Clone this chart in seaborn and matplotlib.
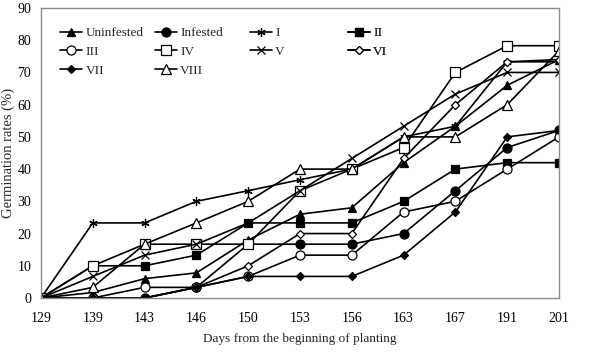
import numpy as np
import matplotlib
matplotlib.use("Agg")
import matplotlib.pyplot as plt
import seaborn as sns

# days (categorical x axis)
days = [129, 139, 143, 146, 150, 153, 156, 163, 167, 191, 201]

uninfested = [0, 1.7, 6, 7.8, 18, 26, 28, 42, 53.3, 66, 74]
infested = [0, 0, 0, 3.3, 16.7, 16.7, 16.7, 20, 33.3, 46.7, 52]
s_i = [0, 23.3, 23.3, 30, 33.3, 36.7, 40, 50, 53.3, 73.3, 73.3]
s_ii = [0, 10, 10, 13.3, 23.3, 23.3, 23.3, 30, 40, 42, 42]
s_iii = [0, 0, 3.3, 3.3, 6.7, 13.3, 13.3, 26.7, 30, 40, 50]
s_iv = [0, 10, 16.7, 16.7, 16.7, 33.3, 40, 46.7, 70, 78.3, 78.3]
s_v = [0, 6.7, 13.3, 16.7, 23.3, 33.3, 43.3, 53.3, 63.3, 70, 70]
s_vi = [0, 0, 0, 3.3, 10, 20, 20, 43.3, 60, 73.3, 74]
s_vii = [0, 0, 0, 3.3, 6.7, 6.7, 6.7, 13.3, 26.7, 50, 52]
s_viii = [0, 3.3, 16.7, 23.3, 30, 40, 40, 50, 50, 60, 76.7]

names = ["Uninfested", "Infested", "I", "II", "III", "IV", "V", "VI", "VII", "VIII"]
values = [uninfested, infested, s_i, s_ii, s_iii, s_iv, s_v, s_vi, s_vii, s_viii]

# marker, filled?, size
styles = {
    "Uninfested": ("^", True, 6),
    "Infested": ("o", True, 6.5),
    "I": ((6, 2, 0), False, 6),
    "II": ("s", True, 6),
    "III": ("o", False, 6.5),
    "IV": ("s", False, 6.5),
    "V": ("x", False, 6),
    "VI": ("D", False, 4.5),
    "VII": ("D", True, 4.5),
    "VIII": ("^", False, 7),
}

sns.set_style("white")
plt.rcParams['font.family'] = ['Liberation Serif', 'DejaVu Serif']
plt.rcParams['font.size'] = 9.5

fig = plt.figure(figsize=(6, 3.56), dpi=100)
ax = fig.add_axes([41/600, 1-298/356, 518/600, 290/356])

pos = np.arange(len(days))
handles = {}
for nm, vals in zip(names, values):
    mk, filled, ms = styles[nm]
    sns.lineplot(x=pos, y=vals, ax=ax, color="black", lw=1.2,
                 marker=mk, markersize=ms,
                 markerfacecolor="black" if filled else "white",
                 markeredgecolor="black", markeredgewidth=0.9,
                 label=nm, legend=False)
    handles[nm] = ax.lines[-1]

ax.set_xlim(0, len(days) - 1)
ax.set_ylim(0, 90)
ax.set_xticks(pos)
ax.set_xticklabels([str(d) for d in days])
ax.set_yticks(range(0, 91, 10))
for s in ax.spines.values():
    s.set_color("#8c8c8c")
    s.set_linewidth(1)
ax.tick_params(axis="both", labelcolor="black", color="#8c8c8c", length=3, width=0.8,
               labelsize=10)
ax.tick_params(axis="x", pad=7)
ax.tick_params(axis="y", pad=4)
ax.set_xlabel("Days from the beginning of planting", labelpad=6)
ax.set_ylabel("Germination rates (%)", labelpad=2, fontsize=10.5)

# legend: four columns of equal width, filled row by row
cols = [["Uninfested", "III", "VII"], ["Infested", "IV", "VIII"],
        ["I", "V"], ["II", "VI"]]
xs = [0.037, 0.22, 0.403, 0.592]
for cx, col in zip(xs, cols):
    lg = ax.legend([handles[n] for n in col], col, loc="upper left",
                   bbox_to_anchor=(cx, 0.934), frameon=False,
                   borderpad=0, borderaxespad=0, handlelength=1.67,
                   handletextpad=0.25, labelspacing=0.48, fontsize=9.5)
    ax.add_artist(lg)

fig.savefig("out.png", dpi=100)
